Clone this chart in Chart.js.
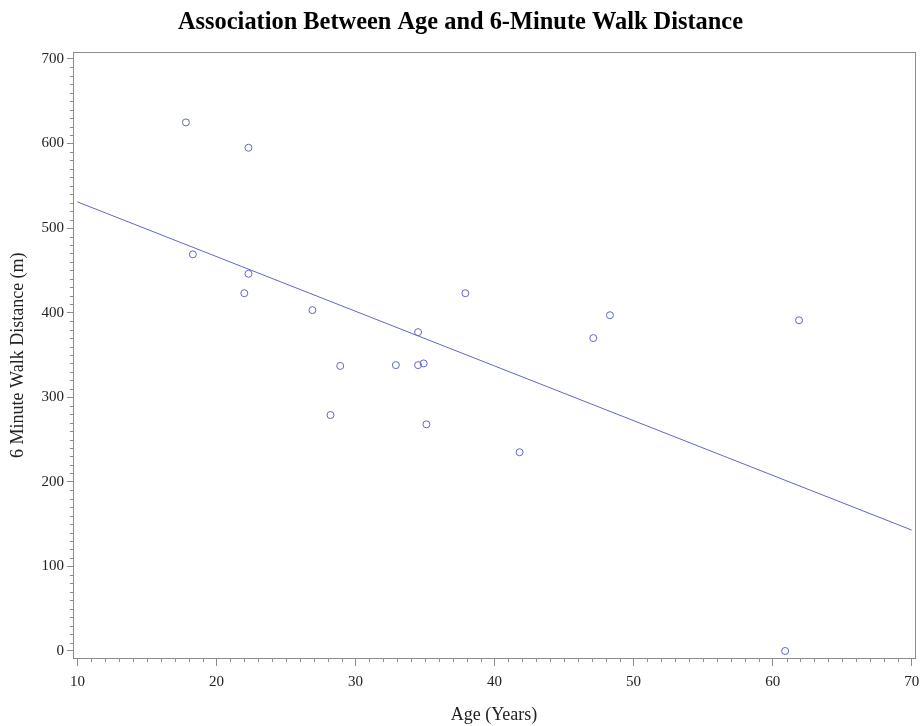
<!DOCTYPE html>
<html>
<head>
<meta charset="utf-8">
<script src="https://cdn.jsdelivr.net/npm/chart.js@4/dist/chart.umd.min.js"></script>
<style>
  html, body { margin: 0; padding: 0; background: #fff; }
</style>
</head>
<body>
<canvas id="scatterChart" width="921" height="726"></canvas>
<script>
// Dados
const ages = [17.8, 22.3, 18.3, 22.3, 22.0, 26.9, 28.9, 28.2, 32.9, 34.5, 34.5, 34.9, 35.1, 37.9, 41.8, 47.1, 48.3, 61.9, 60.9];
const walkDistance = [625, 595, 469, 446, 423, 403, 337, 279, 338, 377, 338, 340, 268, 423, 235, 370, 397, 391, 0];

// Reta de regressão (extremos)
const fitAges = [10, 70];
const fitDistance = [531, 143];

// Rótulos dos eixos
const xTicks = [10, 20, 30, 40, 50, 60, 70];
const yTicks = [0, 100, 200, 300, 400, 500, 600, 700];

const markColor = "#5f67c4";
const frameColor = "#8c8c8c";
const serif = "'Liberation Serif', 'Times New Roman', serif";

// Moldura em volta da área do gráfico + marcas menores
const framePlugin = {
  id: "frame",
  afterDraw(chart) {
    const { ctx, chartArea: a, scales } = chart;
    ctx.save();
    ctx.strokeStyle = frameColor;
    ctx.lineWidth = 1;
    ctx.strokeRect(Math.round(a.left) + 0.5, Math.round(a.top) + 0.5,
      Math.round(a.right - a.left), Math.round(a.bottom - a.top));

    ctx.beginPath();
    const x = scales.x;
    for (let v = Math.ceil(x.min); v <= x.max; v += 1) {
      if (v % 10 === 0) continue;
      const px = Math.round(x.getPixelForValue(v)) + 0.5;
      ctx.moveTo(px, a.bottom);
      ctx.lineTo(px, a.bottom + 4);
    }
    const y = scales.y;
    for (let v = Math.ceil(y.min / 10) * 10; v <= y.max; v += 10) {
      if (v % 100 === 0) continue;
      const py = Math.round(y.getPixelForValue(v)) + 0.5;
      ctx.moveTo(a.left - 3, py);
      ctx.lineTo(a.left, py);
    }
    ctx.stroke();
    ctx.restore();
  }
};

const ctx = document.getElementById("scatterChart");
new Chart(ctx, {
  type: "scatter",
  data: {
    datasets: [
      {
        label: "Regressão",
        type: "line",
        data: fitAges.map((a, i) => ({ x: a, y: fitDistance[i] })),
        borderColor: markColor,
        borderWidth: 1,
        pointRadius: 0,
        fill: false
      },
      {
        label: "Dados",
        data: ages.map((a, i) => ({ x: a, y: walkDistance[i] })),
        pointStyle: "circle",
        pointRadius: 3.5,
        pointBackgroundColor: "rgba(255,255,255,0)",
        pointBorderColor: markColor,
        pointBorderWidth: 1
      }
    ]
  },
  options: {
    responsive: false,
    animation: false,
    devicePixelRatio: 1,
    layout: { padding: 0 },
    plugins: {
      legend: { display: false },
      tooltip: { enabled: false },
      title: {
        display: true,
        text: "Association Between Age and 6-Minute Walk Distance",
        color: "#000",
        font: { family: serif, size: 24.4, weight: "bold" },
        padding: { top: 8, bottom: 15 }
      }
    },
    scales: {
      x: {
        type: "linear",
        min: 9.68,
        max: 70.24,
        afterBuildTicks: s => { s.ticks = xTicks.map(v => ({ value: v })); },
        afterFit: s => { s.height = 68; s.paddingLeft = 0; s.paddingRight = 6; },
        border: { display: false },
        grid: { drawOnChartArea: false, drawTicks: true, tickLength: 8, color: frameColor },
        ticks: { color: "#222", padding: 7, maxRotation: 0, font: { family: serif, size: 15 } },
        title: {
          display: true,
          text: "Age (Years)",
          color: "#222",
          font: { family: serif, size: 18 },
          padding: { top: 0, bottom: 0 }
        }
      },
      y: {
        type: "linear",
        min: -8.3,
        max: 707.9,
        afterBuildTicks: s => { s.ticks = yTicks.map(v => ({ value: v })); },
        afterFit: s => { s.width = 73; s.paddingTop = 0; s.paddingBottom = 0; },
        border: { display: false },
        grid: { drawOnChartArea: false, drawTicks: true, tickLength: 6, color: frameColor },
        ticks: { color: "#222", padding: 3, font: { family: serif, size: 15 } },
        title: {
          display: true,
          text: "6 Minute Walk Distance (m)",
          color: "#222",
          font: { family: serif, size: 18 },
          padding: { top: 7, bottom: 0 }
        }
      }
    }
  },
  plugins: [framePlugin]
});
</script>
</body>
</html>
